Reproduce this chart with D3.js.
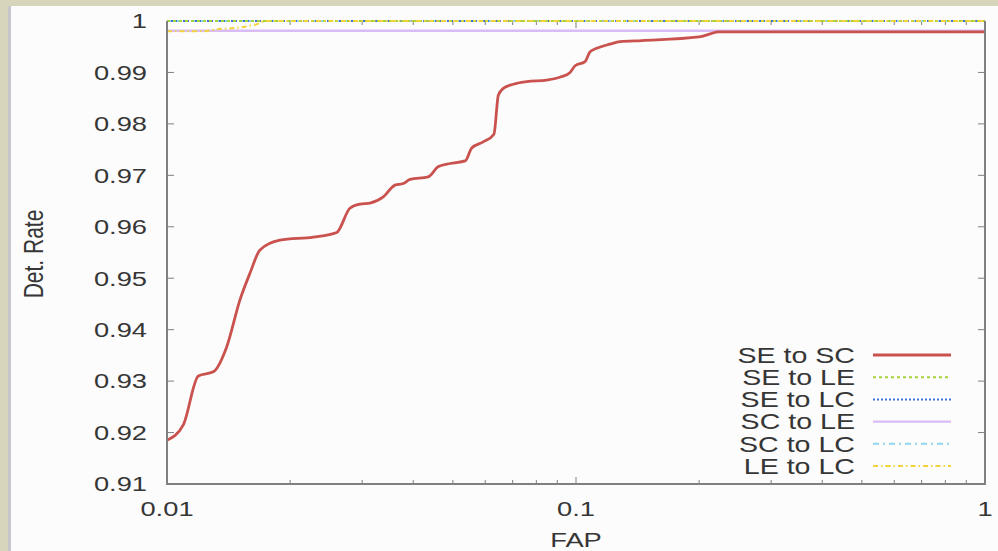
<!DOCTYPE html>
<html><head><meta charset="utf-8">
<script src="https://cdn.jsdelivr.net/npm/d3@7"></script>
<style>
html,body{margin:0;padding:0;background:#d7d6bb;}
svg{display:block;}
text{font-family:"Liberation Sans",Arial,sans-serif;fill:#363636;}
</style></head>
<body>
<svg id="chart" width="998" height="551"></svg>
<script>
// ---- data ----
const seriesNames = ["SE to SC","SE to LE","SE to LC","SC to LE","SC to LC","LE to LC"];
const seToScFap = [0.01,0.01096,0.01193,0.01298,0.0140,0.01508,0.01596,0.01688,0.01889,0.02279,0.0260,0.0280,0.02965,0.03135,0.0338,0.0361,0.0378,0.0393,0.0435,0.0461,0.0492,0.0536,0.0556,0.0593,0.0630,0.0646,0.0664,0.0703,0.0758,0.0848,0.0923,0.0967,0.0995,0.1052,0.1082,0.1124,0.1211,0.1281,0.145,0.20,0.213,0.223,1.0];
const seToScDet = [0.9185,0.9215,0.9310,0.9318,0.9367,0.9458,0.9510,0.9555,0.9574,0.9580,0.9589,0.9636,0.9644,0.9646,0.9658,0.9681,0.9684,0.9692,0.9697,0.9717,0.9723,0.9728,0.9753,0.9765,0.9780,0.9856,0.9869,0.9877,0.9882,0.9885,0.9892,0.9900,0.9913,0.9921,0.9940,0.9947,0.9955,0.9960,0.9962,0.9969,0.9975,0.9979,0.9979];
const seToLeFap = [0.01,1.0];
const seToLeDet = [1.0,1.0];
const seToLcFap = [0.01,1.0];
const seToLcDet = [1.0,1.0];
const scToLeFap = [0.01,1.0];
const scToLeDet = [0.9981,0.9981];
const scToLcFap = [0.01,1.0];
const scToLcDet = [1.0,1.0];
const leToLcFap = [0.01,0.01225,0.01325,0.01442,0.01551,0.0166,0.0174,1.0];
const leToLcDet = [0.998,0.998,0.9984,0.9986,0.9989,0.9994,1.0,1.0];
const xTickLabels = ["0.01","0.1","1"];
const yTickValues = [0.91,0.92,0.93,0.94,0.95,0.96,0.97,0.98,0.99,1];
const yTickLabels = ["0.91","0.92","0.93","0.94","0.95","0.96","0.97","0.98","0.99","1"];

const seriesData = [
  [seToScFap, seToScDet],
  [seToLeFap, seToLeDet],
  [seToLcFap, seToLcDet],
  [scToLeFap, scToLeDet],
  [scToLcFap, scToLcDet],
  [leToLcFap, leToLcDet]
];
const styles = [
  {color:"#c9524e", width:2.8, dash:null},
  {color:"#a8d23a", width:2, dash:"3,3"},
  {color:"#3f6fe0", width:2, dash:"2,2"},
  {color:"#d9bcf6", width:2.4, dash:null},
  {color:"#8fd6f0", width:2, dash:"6,4,2,4"},
  {color:"#f2d43a", width:2, dash:"5,3,1.5,3"}
];

const svg = d3.select("#chart");
const SX = 1.3; // horizontal stretch of the picture's glyphs

// panel
svg.append("rect").attr("x",8).attr("y",6).attr("width",990).attr("height",545).attr("fill","#fcfcfc");
svg.append("rect").attr("x",8).attr("y",6).attr("width",3).attr("height",545).attr("fill","#c6c6cc");

const L=167, R=985, T=21, B=484;
const x = d3.scaleLog().domain([0.01,1]).range([L,R]);
const y = d3.scaleLinear().domain([0.91,1]).range([B,T]);

const g = svg.append("g");

// ticks (inward, gnuplot style)
const tickColor="#808080";
yTickValues.forEach(v=>{
  g.append("line").attr("x1",L).attr("x2",L+7).attr("y1",y(v)).attr("y2",y(v)).attr("stroke",tickColor).attr("stroke-width",1);
  g.append("line").attr("x1",R).attr("x2",R-7).attr("y1",y(v)).attr("y2",y(v)).attr("stroke",tickColor).attr("stroke-width",1);
});
const xTicks = x.ticks();
xTicks.forEach(v=>{
  const major = Math.abs(Math.log10(v)-Math.round(Math.log10(v)))<1e-9;
  const len = major?7:4;
  g.append("line").attr("x1",x(v)).attr("x2",x(v)).attr("y1",B).attr("y2",B-len).attr("stroke",tickColor).attr("stroke-width",1);
  g.append("line").attr("x1",x(v)).attr("x2",x(v)).attr("y1",T).attr("y2",T+len).attr("stroke",tickColor).attr("stroke-width",1);
});

// series
const line = d3.line().x(d=>x(d[0])).y(d=>y(d[1])).curve(d3.curveMonotoneX);
svg.append("clipPath").attr("id","clip").append("rect").attr("x",L).attr("y",T-3).attr("width",R-L).attr("height",B-T+3);
const order=[3,0,4,2,1,5];
order.forEach(i=>{
  const pts = seriesData[i][0].map((f,k)=>[f, seriesData[i][1][k]]);
  const p = g.append("path").datum(pts).attr("d",line).attr("fill","none")
    .attr("stroke",styles[i].color).attr("stroke-width",styles[i].width)
    .attr("stroke-linejoin","round").attr("clip-path","url(#clip)");
  if(styles[i].dash) p.attr("stroke-dasharray",styles[i].dash);
});

// frame
g.append("path").attr("d",`M${L},${T}V${B}H${R}V${T}`).attr("fill","none").attr("stroke","#808080").attr("stroke-width",2);

// stretched text helper
function stext(xp, yp, str, anchor, size, rot){
  return svg.append("text").attr("font-size",size).attr("text-anchor",anchor)
    .attr("transform",`translate(${xp},${yp}) scale(${SX},1)` + (rot?` rotate(${rot})`:""))
    .text(str);
}

// y tick labels
yTickValues.forEach((v,i)=>{
  stext(147, y(v), yTickLabels[i], "end", 21).attr("dominant-baseline","central");
});
// x tick labels
[0.01,0.1,1].forEach((v,i)=>{
  stext(x(v), 516, xTickLabels[i], "middle", 21);
});
// axis titles
stext(576, 547, "FAP", "middle", 21);
stext(33, 254, "Det. Rate", "middle", 21, -90).attr("dominant-baseline","central");

// legend
const legY0 = 355, legDy = 22.2;
seriesNames.forEach((name,i)=>{
  const yy = legY0 + i*legDy;
  stext(855, yy, name, "end", 22).attr("dominant-baseline","central");
  const l = svg.append("line").attr("x1",873).attr("x2",951).attr("y1",yy).attr("y2",yy)
    .attr("stroke",styles[i].color).attr("stroke-width",styles[i].width);
  if(styles[i].dash) l.attr("stroke-dasharray",styles[i].dash);
});
</script>
</body></html>
